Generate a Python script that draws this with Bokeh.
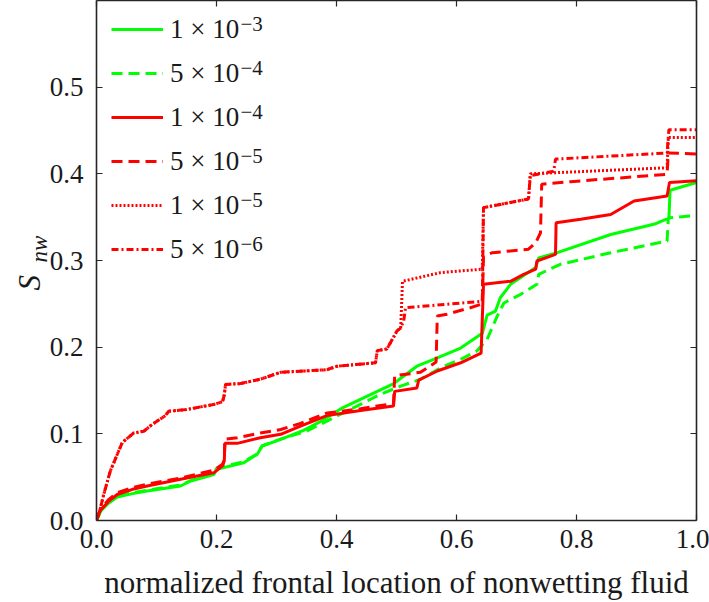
from bokeh.plotting import figure
from bokeh.models import (LinearAxis, FixedTicker, Legend, LegendItem, Label,
                          Range1d, Title)
from bokeh.embed import file_html
from bokeh.resources import INLINE

FONT = "Liberation Serif"

# ---- data -------------------------------------------------------------
x_ticks = [0.0, 0.2, 0.4, 0.6, 0.8, 1.0]
x_tick_labels = ["0.0", "0.2", "0.4", "0.6", "0.8", "1.0"]
y_ticks = [0.0, 0.1, 0.2, 0.3, 0.4, 0.5]
y_tick_labels = ["0.0", "0.1", "0.2", "0.3", "0.4", "0.5"]

series_mantissa = ["1", "5", "1", "5", "1", "5"]
series_exponent = ["\u22123", "\u22124", "\u22124", "\u22125", "\u22125", "\u22126"]

# 1e-3 (green, solid)
x_1e3 = [0.0, 0.007, 0.02, 0.0345, 0.06, 0.0845, 0.14, 0.157, 0.1955, 0.2,
         0.2455, 0.268, 0.276, 0.307, 0.345, 0.373, 0.41, 0.468, 0.4955,
         0.534, 0.562, 0.607, 0.643, 0.651, 0.665, 0.673, 0.69, 0.732,
         0.737, 0.768, 0.857, 0.929, 0.954, 0.956, 1.0]
y_1e3 = [0.0, 0.011, 0.02, 0.027, 0.031, 0.034, 0.0398, 0.0456, 0.053, 0.059,
         0.0667, 0.0764, 0.086, 0.0937, 0.104, 0.114, 0.13, 0.149, 0.158,
         0.178, 0.186, 0.199, 0.216, 0.237, 0.2417, 0.257, 0.2725, 0.292,
         0.303, 0.309, 0.33, 0.3418, 0.349, 0.381, 0.39]

# 5e-4 (green, dashed)
x_5e4 = [0.0, 0.007, 0.02, 0.0345, 0.06, 0.0845, 0.14, 0.157, 0.1955, 0.2,
         0.2455, 0.268, 0.276, 0.307, 0.351, 0.401, 0.44, 0.473, 0.507, 0.54,
         0.579, 0.607, 0.634, 0.651, 0.668, 0.679, 0.707, 0.734, 0.737,
         0.773, 0.857, 0.951, 0.953, 1.0]
y_5e4 = [0.0, 0.011, 0.021, 0.028, 0.032, 0.035, 0.041, 0.046, 0.054, 0.06,
         0.068, 0.077, 0.086, 0.094, 0.1033, 0.1206, 0.134, 0.1456, 0.155,
         0.163, 0.178, 0.186, 0.1956, 0.209, 0.236, 0.251, 0.261, 0.2725,
         0.284, 0.2956, 0.309, 0.3225, 0.349, 0.352]

# 1e-4 (red, solid)
x_1e4 = [0.0, 0.007, 0.02, 0.0345, 0.06, 0.0845, 0.14, 0.1955, 0.21, 0.213,
         0.214, 0.2345, 0.273, 0.307, 0.34, 0.384, 0.44, 0.495, 0.497, 0.534,
         0.537, 0.568, 0.607, 0.641, 0.645, 0.69, 0.712, 0.732, 0.734, 0.765,
         0.766, 0.807, 0.857, 0.896, 0.951, 0.955, 1.0]
y_1e4 = [0.003, 0.012, 0.022, 0.030, 0.036, 0.0398, 0.0475, 0.055, 0.063,
         0.069, 0.089, 0.089, 0.0955, 0.0994, 0.109, 0.121, 0.127, 0.132,
         0.149, 0.153, 0.162, 0.1725, 0.182, 0.193, 0.2725, 0.276, 0.284,
         0.29, 0.2994, 0.307, 0.3436, 0.3475, 0.353, 0.3686, 0.3744, 0.39,
         0.392]

# 5e-5 (red, dashed)
x_5e5 = [0.0, 0.007, 0.02, 0.0345, 0.06, 0.0845, 0.14, 0.1955, 0.21, 0.213,
         0.214, 0.2345, 0.273, 0.307, 0.34, 0.384, 0.44, 0.495, 0.497, 0.54,
         0.566, 0.568, 0.584, 0.623, 0.643, 0.645, 0.66, 0.72, 0.732, 0.74,
         0.742, 0.79, 0.951, 0.953, 1.0]
y_5e5 = [0.003, 0.013, 0.024, 0.032, 0.038, 0.042, 0.049, 0.058, 0.065, 0.070,
         0.0937, 0.0955, 0.101, 0.105, 0.112, 0.124, 0.129, 0.135, 0.167,
         0.171, 0.183, 0.236, 0.238, 0.2455, 0.25, 0.305, 0.309, 0.313,
         0.3205, 0.332, 0.388, 0.391, 0.3994, 0.424, 0.423]

# early path common to the two slowest injection rates
x_slow_early = [0.0, 0.004, 0.012, 0.023, 0.035, 0.043, 0.062, 0.079, 0.093,
                0.115, 0.12, 0.15, 0.196, 0.21, 0.213, 0.215, 0.24, 0.273,
                0.29, 0.307, 0.384, 0.401, 0.465, 0.468, 0.484, 0.493, 0.501,
                0.507]
y_slow_early = [0.0, 0.007, 0.03, 0.057, 0.077, 0.09, 0.101, 0.103, 0.111,
                0.121, 0.126, 0.128, 0.134, 0.137, 0.145, 0.157, 0.158, 0.163,
                0.167, 0.171, 0.174, 0.178, 0.182, 0.196, 0.198, 0.209, 0.219,
                0.222]

# 1e-5 (red, dotted)
x_1e5 = x_slow_early + [0.51, 0.573, 0.643, 0.645, 0.72, 0.723, 0.951, 0.953, 1.0]
y_1e5 = y_slow_early + [0.276, 0.286, 0.29, 0.361, 0.371, 0.40, 0.407, 0.442, 0.442]

# 5e-6 (red, dash-dot)
x_5e6 = x_slow_early + [0.512, 0.515, 0.643, 0.645, 0.72, 0.723, 0.762, 0.765,
                        0.951, 0.954, 1.0]
y_5e6 = y_slow_early + [0.23, 0.2455, 0.253, 0.361, 0.371, 0.398, 0.403, 0.417,
                        0.424, 0.451, 0.451]

GREEN = "#00ff00"
RED = "#ff0000"
INK = "#1a1a1a"

# ---- figure -----------------------------------------------------------
p = figure(width=709, height=602, x_range=Range1d(0, 1), y_range=Range1d(0, 0.6),
           output_backend="svg", toolbar_location=None,
           min_border_left=96, min_border_right=13, min_border_top=0,
           min_border_bottom=82, background_fill_color="white",
           border_fill_color="white")
p.grid.visible = False
p.outline_line_color = None

AXIS_COLOR = "#262626"


def style_axis(ax, ticks, labels, show_labels):
    ax.ticker = FixedTicker(ticks=ticks)
    ax.major_tick_in = 6
    ax.major_tick_out = 0
    ax.major_tick_line_color = AXIS_COLOR
    ax.major_tick_line_width = 1.2
    ax.minor_tick_line_color = None
    ax.axis_line_color = AXIS_COLOR
    ax.axis_line_width = 1.6
    if show_labels:
        ax.major_label_overrides = {t: s for t, s in zip(ticks, labels)}
        ax.major_label_text_font = FONT
        ax.major_label_text_font_size = "27px"
        ax.major_label_text_color = INK
    else:
        ax.major_label_overrides = {t: "" for t in ticks}
        ax.major_label_text_font_size = "0px"
        ax.major_label_standoff = 0


xb = p.xaxis[0]
style_axis(xb, x_ticks, x_tick_labels, True)
xb.major_label_standoff = 9
xb.axis_label = "normalized frontal location of nonwetting fluid"
xb.axis_label_text_font = FONT
xb.axis_label_text_font_size = "31px"
xb.axis_label_text_font_style = "normal"
xb.axis_label_text_color = INK
xb.axis_label_standoff = 14

yl = p.yaxis[0]
style_axis(yl, y_ticks, y_tick_labels, True)
yl.major_label_standoff = 13

top_axis = LinearAxis()
style_axis(top_axis, x_ticks, x_tick_labels, False)
p.add_layout(top_axis, "above")

right_axis = LinearAxis()
style_axis(right_axis, y_ticks, y_tick_labels, False)
p.add_layout(right_axis, "right")

# y axis title S_nw, built from two side titles (subscript sits nearer the axis)
p.add_layout(Title(text="nw", text_font=FONT, text_font_size="23px",
                   text_font_style="italic", text_color=INK, align="left",
                   offset=258, standoff=-10), "left")
p.add_layout(Title(text="S", text_font=FONT, text_font_size="31px",
                   text_font_style="italic", text_color=INK, align="left",
                   offset=230, standoff=-34), "left")

# ---- curves -----------------------------------------------------------
LW = 3
r1 = p.line(x_1e3, y_1e3, line_color=GREEN, line_width=LW)
r2 = p.line(x_5e4, y_5e4, line_color=GREEN, line_width=LW, line_dash="11 6")
r3 = p.line(x_1e4, y_1e4, line_color=RED, line_width=LW)
r4 = p.line(x_5e5, y_5e5, line_color=RED, line_width=LW, line_dash="11 6")
r5 = p.line(x_1e5, y_1e5, line_color=RED, line_width=LW, line_dash="2 2")
r6 = p.line(x_5e6, y_5e6, line_color=RED, line_width=LW, line_dash="7 3 2 3")
renderers = [r1, r2, r3, r4, r5, r6]

# ---- legend -----------------------------------------------------------
items = [LegendItem(label=f"{m} \u00d7 10", renderers=[r])
         for m, r in zip(series_mantissa, renderers)]
legend = Legend(items=items, location=(15, 251), glyph_width=52,
                glyph_height=40, label_height=40, spacing=4, padding=0,
                margin=0, border_line_alpha=0, background_fill_alpha=0,
                label_standoff=7, label_text_font=FONT,
                label_text_font_size="27px", label_text_color=INK)
p.add_layout(legend)

ROW0 = 29      # first legend row, pixels below the frame top
ROW_STEP = 44
FRAME_H = 520
for i, e in enumerate(series_exponent):
    p.add_layout(Label(x=144, y=FRAME_H - (ROW0 + i * ROW_STEP - 6),
                       x_units="screen", y_units="screen", text=e,
                       text_font=FONT, text_font_size="21px",
                       text_baseline="middle", text_align="left",
                       text_color=INK))

open("out.html", "w").write(file_html(p, INLINE))
